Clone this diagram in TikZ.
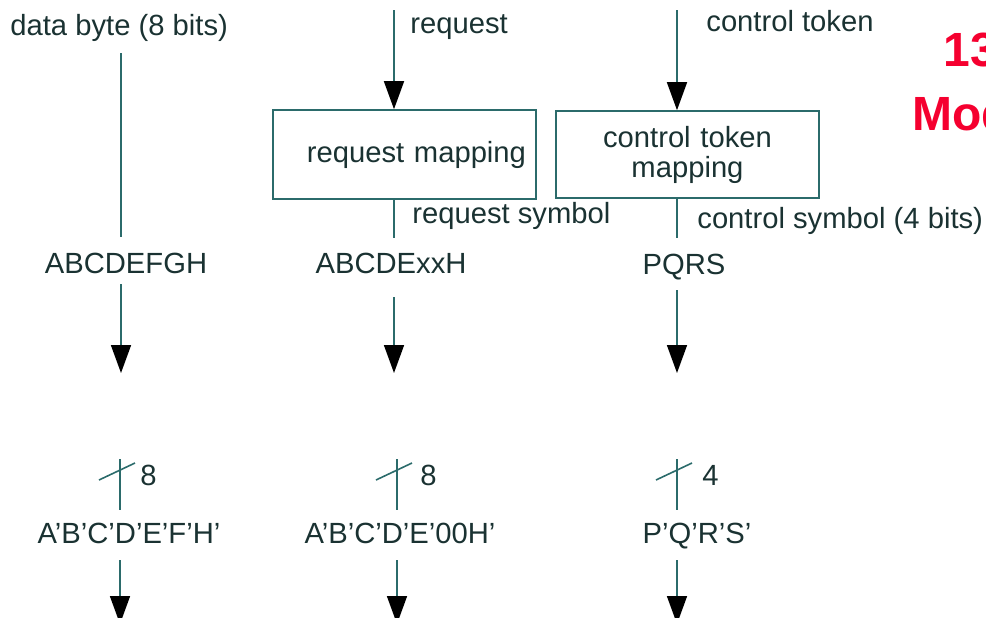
\documentclass[tikz,border=0pt]{standalone}
\usepackage{fontspec}
\setmainfont{Liberation Sans}
\usetikzlibrary{arrows.meta}
\definecolor{ink}{HTML}{1A3232}
\definecolor{wirecol}{HTML}{2B6B6B}
\definecolor{alert}{HTML}{F5002F}
\begin{document}
\begin{tikzpicture}[x=0.5pt,y=-0.5pt,
  lbl/.style={inner sep=0pt, text=ink, font=\fontsize{14.6}{14}\selectfont},
  wire/.style={draw=wirecol, line width=0.8pt},
  flow/.style={wire, -{Triangle[length=14pt,width=10pt,color=black]}},
  mapbox/.style={draw=wirecol, line width=0.8pt, text=ink,
    font=\fontsize{14.6}{15}\selectfont, minimum width=131.5pt},
  headline/.style={inner sep=0pt, text=alert, font=\bfseries\fontsize{24}{24}\selectfont, anchor=base west}]
\useasboundingbox (0,0) rectangle (986,617);
\clip (0,0) rectangle (986,617);

% inputs
\node[lbl, anchor=base west] (inData) at (10,35) {data byte (8 bits)};
\node[lbl, anchor=base west] (inReq) at (410,33) {request};
\node[lbl, anchor=base west] (inCtl) at (706,31) {control token};

% mapping blocks
\node[mapbox, minimum height=44.5pt, text width=121.5pt, align=right, inner xsep=5pt]
  (mapReq) at (404.5,154.5) {request mapping};
\node[mapbox, minimum height=43.5pt, text width=121.5pt, align=center, inner xsep=5pt]
  (mapCtl) at (687.5,154.5) {control token\\mapping};

\node[lbl, anchor=base west] (symReq) at (412,223) {request symbol};
\node[lbl, anchor=base west] (symCtl) at (697,228) {control symbol (4 bits)};

% symbols before coding
\node[lbl, anchor=base] (sym1) at (126,273) {ABCDEFGH};
\node[lbl, anchor=base] (sym2) at (391,273) {ABCDExxH};
\node[lbl, anchor=base] (sym3) at (684,274) {PQRS};

% coded symbols and bus widths
\node[lbl, anchor=base west] (bw1) at (140,485) {8};
\node[lbl, anchor=base west] (bw2) at (420,485) {8};
\node[lbl, anchor=base west] (bw3) at (702,485) {4};
\node[lbl, anchor=base] (out1) at (129,543) {A'B'C'D'E'F'H'};
\node[lbl, anchor=base] (out2) at (400,543) {A'B'C'D'E'00H'};
\node[lbl, anchor=base] (out3) at (697,543) {P'Q'R'S'};

% heading fragment
\node[headline] (hd1) at (943,66) {13};
\node[headline] (hd2) at (912,130) {Mod};

% column 1
\coordinate (a1) at (121,53);
\coordinate (a2) at (121,237);
\coordinate (a3) at (121,284);
\coordinate (a4) at (121,373);
\draw[wire] (a1) -- (a2);
\draw[flow] (a3) -- (a4);

% column 2
\coordinate (r0) at (394,10);
\coordinate (r1) at (394,238);
\coordinate (r2) at (394,297);
\coordinate (r3) at (394,373);
\draw[flow] (r0) -- (r0 |- mapReq.north);
\draw[wire] (r0 |- mapReq.south) -- (r1);
\draw[flow] (r2) -- (r3);

% column 3
\coordinate (k0) at (677,10);
\coordinate (k1) at (677,238);
\coordinate (k2) at (677,290);
\coordinate (k3) at (677,373);
\draw[flow] (k0) -- (k0 |- mapCtl.north);
\draw[wire] (k0 |- mapCtl.south) -- (k1);
\draw[flow] (k2) -- (k3);

% bus marks and output arrows
\foreach \n/\x in {1/120, 2/397, 3/677} {
  \coordinate (bt\n) at (\x,459);
  \coordinate (bb\n) at (\x,510);
  \coordinate (sa\n) at (\x-21,480);
  \coordinate (sb\n) at (\x+15,463);
  \coordinate (oa\n) at (\x,560);
  \coordinate (ob\n) at (\x,624);
  \draw[wire] (bt\n) -- (bb\n);
  \draw[wire] (sa\n) -- (sb\n);
  \draw[flow] (oa\n) -- (ob\n);
}
\end{tikzpicture}
\end{document}
